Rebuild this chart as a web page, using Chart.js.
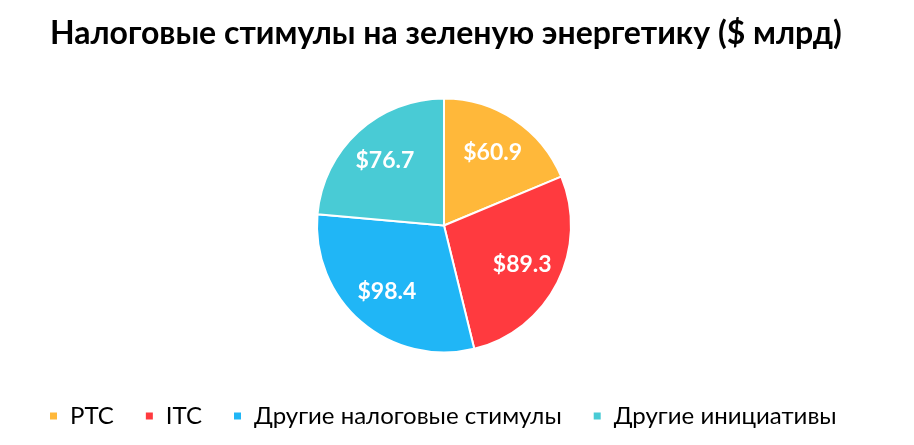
<!DOCTYPE html>
<html>
<head>
<meta charset="utf-8">
<script src="https://cdn.jsdelivr.net/npm/chart.js@4"></script>
<style>
  html, body { margin: 0; padding: 0; background: #fff; }
  #wrap { position: relative; width: 914px; height: 445px; }
  #chart-title {
    position: absolute; left: 50px; top: 12px; margin: 0;
    font: bold 32px Lato, sans-serif; color: #000; white-space: nowrap;
  }
</style>
</head>
<body>
<div id="wrap">
  <canvas id="pie-chart"></canvas>
  <h1 id="chart-title"></h1>
</div>
<script>
const chart_title = 'Налоговые стимулы на зеленую энергетику ($ млрд)';
const categories = ['PTC', 'ITC', 'Другие налоговые стимулы', 'Другие инициативы'];
const values = [60.9, 89.3, 98.4, 76.7];
const colors = ['#FFB83A', '#FF3A3F', '#20B6F6', '#49CBD5'];

document.getElementById('chart-title').textContent = chart_title;

// draws the $ value inside each slice
const slice_labels = {
    id: 'slice_labels',
    afterDatasetsDraw(chart) {
        const ctx = chart.ctx;
        const meta = chart.getDatasetMeta(0);
        ctx.save();
        ctx.fillStyle = '#fff';
        ctx.font = 'bold 23px Lato';
        ctx.textAlign = 'center';
        ctx.textBaseline = 'middle';
        meta.data.forEach((arc, i) => {
            const mid = (arc.startAngle + arc.endAngle) / 2;
            const r = arc.outerRadius * 0.69;
            const x = arc.x + Math.cos(mid) * r;
            const y = arc.y + Math.sin(mid) * r;
            ctx.fillText('$' + values[i].toFixed(1), x, y);
        });
        ctx.restore();
    }
};

const ctx = document.getElementById('pie-chart').getContext('2d');
new Chart(ctx, {
    type: 'pie',
    data: {
        labels: categories,
        datasets: [{
            data: values,
            backgroundColor: colors,
            borderColor: '#fff',
            borderWidth: 2,
            radius: 127
        }]
    },
    options: {
        responsive: true,
        maintainAspectRatio: false,
        animation: false,
        layout: { padding: { top: 78, bottom: 7, left: 18, right: 44 } },
        plugins: {
            legend: {
                position: 'bottom',
                align: 'start',
                labels: {
                    color: '#000',
                    font: { family: 'Lato', size: 24 },
                    boxWidth: 9,
                    boxHeight: 9,
                    padding: 31
                }
            },
            tooltip: { enabled: false }
        }
    },
    plugins: [slice_labels]
});
</script>
</body>
</html>
